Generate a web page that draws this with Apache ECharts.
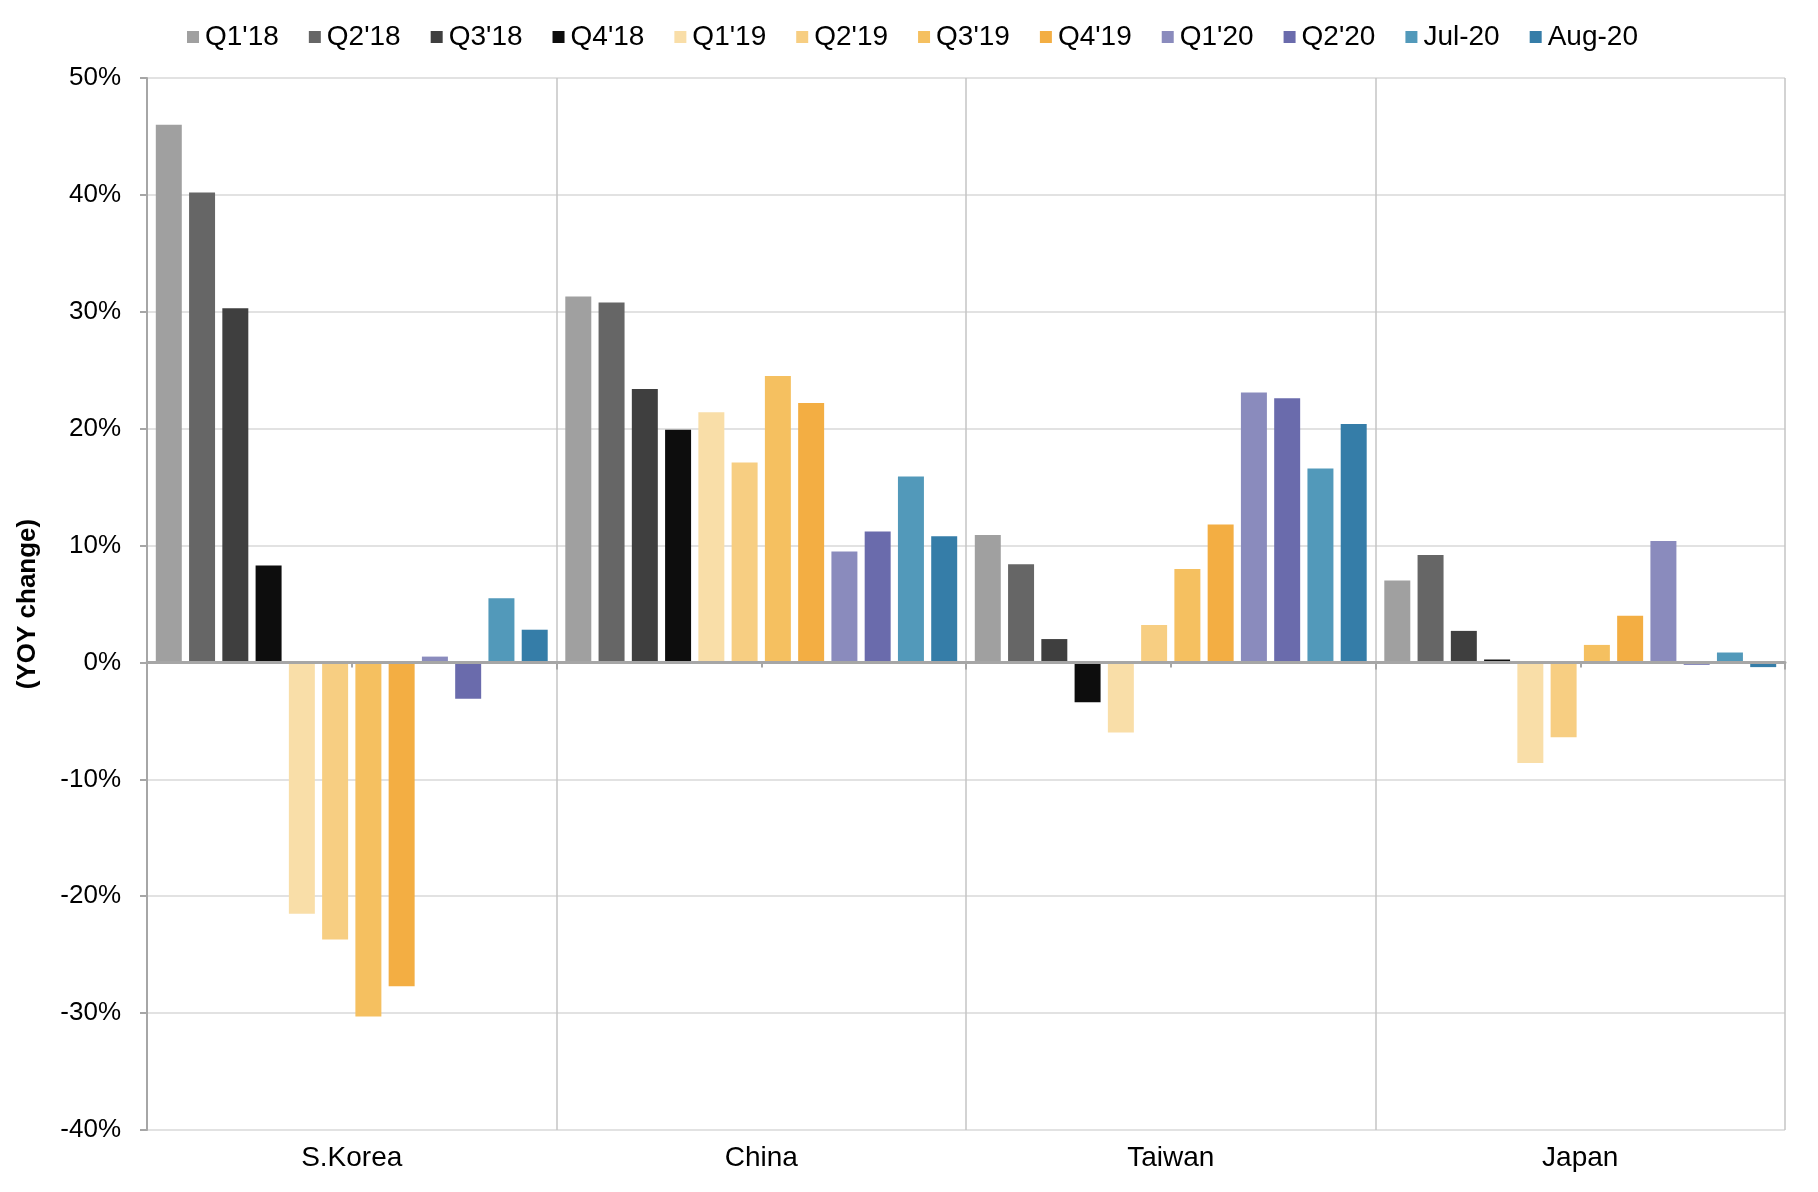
<!DOCTYPE html>
<html>
<head>
<meta charset="utf-8">
<script src="https://cdn.jsdelivr.net/npm/echarts@6/dist/echarts.min.js"></script>
<style>
  html, body { margin: 0; padding: 0; background: #fff; }
  #chart { width: 1818px; height: 1192px; }
</style>
</head>
<body>
<div id="chart"></div>
<script>
// countries on the axis, periods in the legend
const countries = ['S.Korea', 'China', 'Taiwan', 'Japan'];
const periods = ["Q1'18", "Q2'18", "Q3'18", "Q4'18", "Q1'19", "Q2'19", "Q3'19", "Q4'19", "Q1'20", "Q2'20", 'Jul-20', 'Aug-20'];
const yTicks = [-40, -30, -20, -10, 0, 10, 20, 30, 40, 50];

// YOY change in %, one value per period
const sKorea = [46.0, 40.2, 30.3, 8.3, -21.5, -23.7, -30.3, -27.7, 0.5, -3.1, 5.5, 2.8];
const china  = [31.3, 30.8, 23.4, 19.9, 21.4, 17.1, 24.5, 22.2, 9.5, 11.2, 15.9, 10.8];
const taiwan = [10.9, 8.4, 2.0, -3.4, -6.0, 3.2, 8.0, 11.8, 23.1, 22.6, 16.6, 20.4];
const japan  = [7.0, 9.2, 2.7, 0.25, -8.6, -6.4, 1.5, 4.0, 10.4, -0.2, 0.85, -0.4];

const colors = ['#A0A0A0', '#666666', '#3F3F3F', '#0D0D0D', '#F9DEA8', '#F7CE82', '#F5C060', '#F3AE43',
                '#8A8BBD', '#6A6BAC', '#5299BA', '#357DA8'];

const byCountry = [sKorea, china, taiwan, japan];
const font = '"Liberation Sans", Arial, sans-serif';

let chart = echarts.init(document.getElementById('chart'));

let series = periods.map((p, i) => ({
  name: p,
  type: 'bar',
  xAxisIndex: 0,
  barGap: '28%',
  barCategoryGap: '4.3%',
  itemStyle: { color: colors[i] },
  data: byCountry.map(c => c[i])
}));

let option = {
  animation: false,
  textStyle: { fontFamily: font },
  color: colors,
  legend: {
    top: 18,
    left: 182,
    icon: 'rect',
    itemWidth: 12,
    itemHeight: 12,
    itemGap: 30,
    textStyle: { fontFamily: font, fontSize: 28, color: '#000', padding: [0, 0, 0, 1] },
    data: periods
  },
  grid: { left: 147, right: 33, top: 78, bottom: 62 },
  xAxis: [
    { // zero line with ticks at the category edges
      type: 'category',
      data: countries,
      position: 'bottom',
      axisLine: { onZero: true, lineStyle: { color: '#A6A6A6', width: 3 } },
      axisTick: { show: true, length: 7, lineStyle: { color: '#A6A6A6', width: 2 } },
      axisLabel: { show: false },
      splitLine: { show: false },
      z: 5
    },
    { // labels at the bottom + vertical separators
      type: 'category',
      data: countries,
      position: 'bottom',
      axisLine: { show: false, onZero: false },
      axisTick: { show: false },
      axisLabel: { fontFamily: font, fontSize: 28, color: '#000', margin: 14 },
      splitLine: { show: true, lineStyle: { color: '#C4C4C4', width: 1.5 } }
    },
    { // small tick at category centre on the zero line
      type: 'category',
      data: countries,
      position: 'bottom',
      axisLine: { show: false, onZero: true, onZeroAxisIndex: 0 },
      axisTick: { show: true, alignWithLabel: true, length: 5, lineStyle: { color: '#A6A6A6', width: 2 } },
      axisLabel: { show: false },
      splitLine: { show: false }
    }
  ],
  yAxis: {
    type: 'value',
    min: yTicks[0],
    max: yTicks[yTicks.length - 1],
    interval: 10,
    name: '(YOY change)',
    nameLocation: 'middle',
    nameGap: 106,
    nameTextStyle: { fontFamily: font, fontSize: 26, fontWeight: 'bold', color: '#000' },
    axisLine: { show: true, lineStyle: { color: '#A6A6A6', width: 2 } },
    axisTick: { show: true, length: 7, lineStyle: { color: '#A6A6A6', width: 2 } },
    axisLabel: { fontFamily: font, fontSize: 26, color: '#000', margin: 26, formatter: v => v + '%' },
    splitLine: { lineStyle: { color: '#D9D9D9', width: 1.5 } }
  },
  series: series
};

chart.setOption(option);
</script>
</body>
</html>
